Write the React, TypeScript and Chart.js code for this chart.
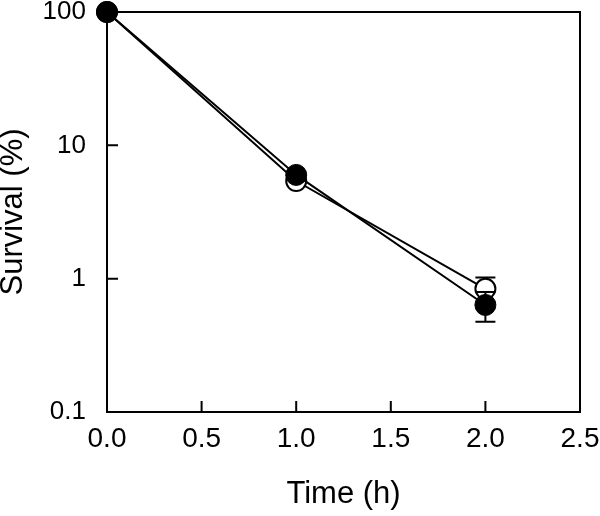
import React, { useEffect, useRef } from "react";
import { Chart, registerables } from "chart.js";
Chart.register(...registerables);

const times = [0, 1, 2];
const openValues = [100, 5.4, 0.84];
const openErrors = [0, 0, 0.18];
const filledValues = [100, 6.0, 0.635];
const filledErrors = [0, 0, 0.16];
const xTicks = [0, 0.5, 1, 1.5, 2, 2.5];
const yTicks = [0.1, 1, 10, 100];
const xTitle = "Time (h)";
const yTitle = "Survival (%)";

const FONT = "'Liberation Sans', Arial, Helvetica, sans-serif";

const framePlugin = {
  id: "frame",
  beforeDatasetsDraw(chart: any) {
    const { ctx, chartArea, scales } = chart;
    const { left, right, top, bottom } = chartArea;
    ctx.save();
    ctx.strokeStyle = "#000";
    ctx.lineWidth = 2;
    ctx.strokeRect(left, top, right - left, bottom - top);
    ctx.beginPath();
    for (const v of xTicks) {
      const x = scales.x.getPixelForValue(v);
      ctx.moveTo(x, bottom);
      ctx.lineTo(x, bottom - 11);
    }
    for (const v of yTicks) {
      const y = scales.y.getPixelForValue(v);
      ctx.moveTo(left, y);
      ctx.lineTo(left + 11, y);
    }
    ctx.stroke();
    ctx.restore();
  },
};

const errorBarPlugin = {
  id: "errorBars",
  beforeDatasetDraw(chart: any, args: any) {
    const ds: any = chart.data.datasets[args.index];
    const errs: number[] = ds.errors || [];
    const meta = args.meta;
    const yScale = chart.scales.y;
    const ctx = chart.ctx;
    ctx.save();
    ctx.strokeStyle = "#000";
    ctx.lineWidth = 2;
    meta.data.forEach((pt: any, i: number) => {
      const e = errs[i];
      if (!e) return;
      const v = ds.data[i].y;
      const yt = yScale.getPixelForValue(v + e);
      const yb = yScale.getPixelForValue(v - e);
      const x = pt.x;
      ctx.beginPath();
      ctx.moveTo(x, yt);
      ctx.lineTo(x, yb);
      ctx.moveTo(x - 10, yt);
      ctx.lineTo(x + 10, yt);
      ctx.moveTo(x - 10, yb);
      ctx.lineTo(x + 10, yb);
      ctx.stroke();
    });
    ctx.restore();
  },
};

export default function App() {
  const ref = useRef<HTMLCanvasElement | null>(null);
  useEffect(() => {
    document.body.style.margin = "0";
    const canvas = ref.current;
    if (!canvas) return;
    const chart = new Chart(canvas, {
      type: "line",
      data: {
        datasets: [
          {
            label: "open",
            data: times.map((t, i) => ({ x: t, y: openValues[i] })),
            errors: openErrors,
            borderColor: "#000",
            borderWidth: 2,
            pointRadius: 10,
            pointBackgroundColor: "#fff",
            pointBorderColor: "#000",
            pointBorderWidth: 2,
            fill: false,
            tension: 0,
            clip: false,
            order: 2,
          } as any,
          {
            label: "filled",
            data: times.map((t, i) => ({ x: t, y: filledValues[i] })),
            errors: filledErrors,
            borderColor: "#000",
            borderWidth: 2,
            pointRadius: 10.5,
            pointBackgroundColor: "#000",
            pointBorderColor: "#000",
            pointBorderWidth: 1,
            fill: false,
            tension: 0,
            clip: false,
            order: 1,
          } as any,
        ],
      },
      options: {
        animation: false,
        responsive: false,
        maintainAspectRatio: false,
        layout: { autoPadding: false, padding: { left: 0, right: 20, top: 12, bottom: 0 } },
        plugins: {
          legend: { display: false },
          tooltip: { enabled: false },
        },
        scales: {
          x: {
            type: "linear",
            min: 0,
            max: 2.5,
            afterBuildTicks: (s: any) => {
              s.ticks = xTicks.map((v) => ({ value: v }));
            },
            afterFit: (s: any) => {
              s.height = 104;
              s.paddingLeft = 0;
              s.paddingRight = 0;
            },
            grid: { display: true, drawOnChartArea: false, drawTicks: false },
            border: { display: false },
            ticks: {
              padding: 13,
              color: "#000",
              maxRotation: 0,
              autoSkip: false,
              font: { family: FONT, size: 28, lineHeight: 1 },
              callback: (v: any) => Number(v).toFixed(1),
            },
            title: {
              display: true,
              text: xTitle,
              color: "#000",
              font: { family: FONT, size: 31, lineHeight: 1.2 },
              padding: { top: 0, bottom: 3 },
            },
          },
          y: {
            type: "logarithmic",
            min: 0.1,
            max: 100,
            afterBuildTicks: (s: any) => {
              s.ticks = yTicks.map((v) => ({ value: v }));
            },
            afterFit: (s: any) => {
              s.width = 107;
              s.paddingTop = 0;
              s.paddingBottom = 0;
            },
            grid: { display: true, drawOnChartArea: false, drawTicks: false },
            border: { display: false },
            ticks: {
              padding: 21,
              color: "#000",
              autoSkip: false,
              font: { family: FONT, size: 26, lineHeight: 0.9 },
              callback: (v: any) => String(v),
            },
            title: {
              display: true,
              text: yTitle,
              color: "#000",
              font: { family: FONT, size: 31, lineHeight: 0.85 },
              padding: { top: 0, bottom: 0 },
            },
          },
        },
      } as any,
      plugins: [framePlugin, errorBarPlugin],
    });
    return () => chart.destroy();
  }, []);
  return <canvas ref={ref} width={600} height={516} style={{ display: "block" }} />;
}
